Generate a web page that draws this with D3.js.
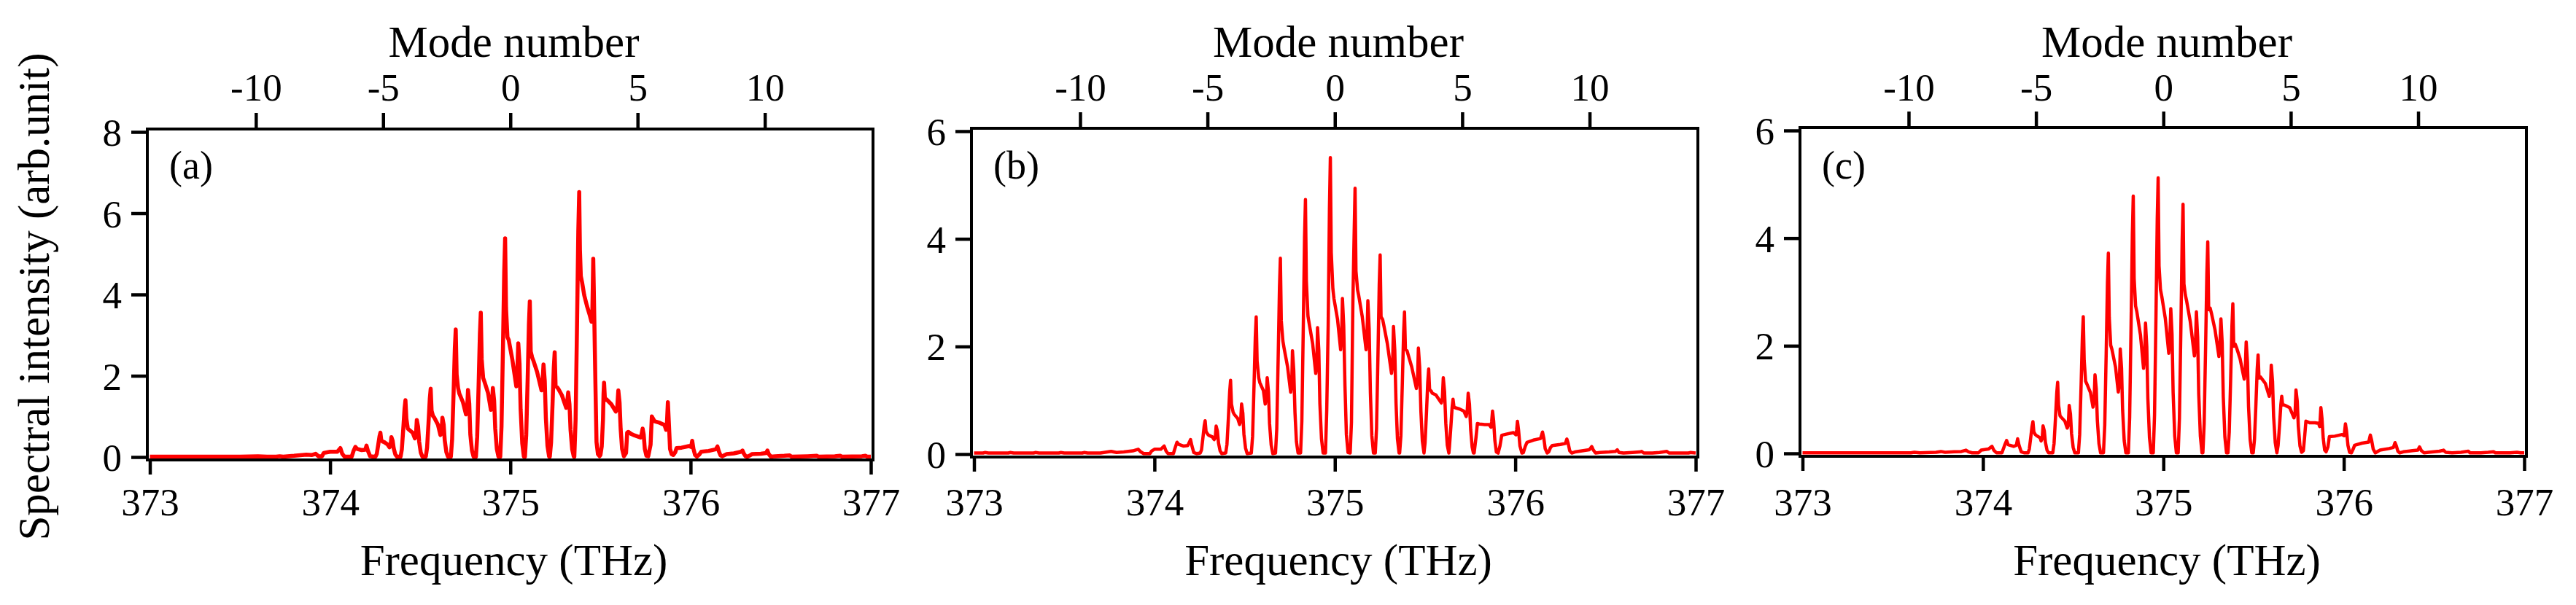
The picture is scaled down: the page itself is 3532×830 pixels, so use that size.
<!DOCTYPE html>
<html>
<head>
<meta charset="utf-8">
<script src="https://cdn.jsdelivr.net/npm/d3@7"></script>
<style>
  body { margin: 0; background: #fff; }
  text { font-family: "Liberation Serif", "Times New Roman", serif; fill: #000; }
</style>
</head>
<body>
<svg id="chart" width="3532" height="830"></svg>
<script>
// axis ticks
const freqTicks = [373, 374, 375, 376, 377];
const modeTicks = [-10, -5, 0, 5, 10];
const modeCenter = 375;      // THz, mode 0
const modeSpacing = 0.1412;  // THz per mode
const yTicksA = [0, 2, 4, 6, 8];
const yTicksB = [0, 2, 4, 6];
const yTicksC = [0, 2, 4, 6];
const panelLabels = ["(a)", "(b)", "(c)"];

// spectra: [frequency THz, intensity]
const specA = [
  [373.00,0.01],[373.50,0.01],[373.60,0.02],[373.65,0.01],[373.70,0.01],[373.72,0.02],[373.74,0.01],[373.80,0.03],
  [373.868,0.06],[373.90,0.05],[373.92,0.08],[373.935,0.02],[373.955,0.02],[373.965,0.10],[374.00,0.13],[374.04,0.13],
  [374.057,0.22],[374.067,0.08],[374.08,0.01],[374.12,0.01],[374.13,0.15],[374.14,0.25],[374.15,0.20],[374.175,0.17],
  [374.195,0.18],[374.202,0.28],[374.21,0.15],[374.222,0.02],[374.245,0.01],
  [374.252,0.01],[374.259,0.08],[374.267,0.30],[374.274,0.51],[374.279,0.60],[374.284,0.41],[374.292,0.38],[374.299,0.37],
  [374.319,0.31],[374.329,0.24],[374.335,0.27],[374.340,0.49],[374.347,0.40],[374.353,0.21],[374.362,0.06],[374.371,0.01],
  [374.391,0.01],[374.398,0.19],[374.406,0.70],[374.413,1.19],[374.418,1.40],[374.423,0.95],[374.431,0.70],[374.438,0.67],
  [374.458,0.60],[374.470,0.46],[374.476,0.52],[374.481,0.91],[374.488,0.75],[374.494,0.38],[374.503,0.11],[374.512,0.01],
  [374.531,0.01],[374.538,0.23],[374.546,0.84],[374.553,1.43],[374.558,1.68],[374.563,1.14],[374.571,1.01],[374.578,0.97],
  [374.598,0.80],[374.612,0.54],[374.618,0.61],[374.623,0.97],[374.630,0.80],[374.636,0.41],[374.645,0.12],[374.654,0.01],
  [374.670,0.01],[374.677,0.44],[374.685,1.57],[374.692,2.67],[374.697,3.14],[374.702,2.03],[374.710,1.70],[374.717,1.56],
  [374.737,1.35],[374.754,1.05],[374.760,1.15],[374.765,1.65],[374.772,1.32],[374.778,0.55],[374.787,0.16],[374.796,0.01],
  [374.809,0.01],[374.816,0.50],[374.824,1.78],[374.831,3.02],[374.836,3.55],[374.841,2.41],[374.849,1.95],[374.856,1.86],
  [374.876,1.58],[374.892,1.16],[374.898,1.32],[374.903,1.70],[374.910,1.39],[374.916,0.71],[374.925,0.20],[374.934,0.01],
  [374.944,0.01],[374.951,0.75],[374.959,2.69],[374.966,4.57],[374.971,5.38],[374.976,3.66],[374.984,2.95],[374.991,2.88],
  [375.011,2.40],[375.033,1.74],[375.039,2.16],[375.044,2.80],[375.051,2.30],[375.057,1.18],[375.066,0.34],[375.075,0.01],
  [375.081,0.01],[375.088,0.54],[375.096,1.92],[375.103,3.26],[375.108,3.83],[375.113,2.60],[375.121,2.45],[375.128,2.37],
  [375.148,2.10],[375.173,1.64],[375.179,1.86],[375.184,2.28],[375.191,1.87],[375.197,0.96],[375.206,0.27],[375.215,0.01],
  [375.219,0.01],[375.226,0.36],[375.234,1.29],[375.241,2.19],[375.246,2.58],[375.251,1.75],[375.259,1.72],[375.266,1.68],
  [375.286,1.52],[375.310,1.21],[375.316,1.38],[375.321,1.59],[375.328,1.30],[375.334,0.67],[375.343,0.19],[375.352,0.01],
  [375.355,0.01],[375.362,0.91],[375.370,3.26],[375.377,5.54],[375.382,6.52],[375.386,5.10],[375.391,4.45],[375.398,4.30],
  [375.410,3.98],[375.425,3.72],[375.440,3.50],[375.450,3.33],[375.455,3.60],[375.460,4.88],[375.466,3.36],[375.472,1.80],
  [375.478,0.37],[375.486,0.07],[375.495,0.02],
  [375.500,0.05],[375.507,0.26],[375.514,0.92],[375.517,1.55],[375.520,1.83],[375.525,1.40],[375.533,1.42],[375.540,1.39],
  [375.560,1.30],[375.585,1.12],[375.593,1.21],[375.599,1.64],[375.606,1.34],[375.612,0.69],[375.620,0.20],[375.630,0.02],
  [375.642,0.10],[375.648,0.60],[375.655,0.62],[375.670,0.57],[375.690,0.53],[375.710,0.50],[375.722,0.48],[375.728,0.56],
  [375.734,0.70],[375.740,0.55],[375.746,0.20],[375.755,0.03],[375.765,0.02],
  [375.778,0.30],[375.785,1.00],[375.790,0.96],[375.800,0.88],[375.830,0.84],[375.855,0.79],[375.864,0.67],[375.869,0.85],
  [375.874,1.35],[375.880,0.79],[375.886,0.20],[375.895,0.07],[375.904,0.05],
  [375.915,0.12],[375.922,0.22],[375.950,0.23],[375.990,0.27],[376.003,0.25],[376.009,0.40],[376.016,0.20],[376.025,0.05],[376.035,0.01],
  [376.048,0.06],[376.059,0.13],[376.100,0.15],[376.140,0.19],[376.149,0.26],[376.157,0.14],[376.166,0.04],[376.175,0.02],
  [376.190,0.05],[376.200,0.07],[376.240,0.09],[376.280,0.13],[376.288,0.16],[376.296,0.08],[376.305,0.02],[376.315,0.01],
  [376.330,0.04],[376.340,0.07],[376.390,0.08],[376.420,0.10],[376.426,0.16],[376.434,0.07],[376.445,0.01],
  [376.470,0.02],[376.520,0.03],[376.550,0.04],[376.560,0.01],[376.650,0.02],[376.700,0.03],[376.710,0.01],
  [376.800,0.02],[376.830,0.03],[376.840,0.01],[376.950,0.02],[376.970,0.03],[376.980,0.01],[377.00,0.01]
];

const specB = [
  [373.00,0.02],[373.05,0.02],[373.06,0.03],[373.08,0.02],[373.19,0.02],[373.20,0.03],[373.22,0.02],[373.33,0.02],
  [373.34,0.03],[373.36,0.02],[373.47,0.02],[373.48,0.03],[373.50,0.02],[373.60,0.02],[373.61,0.03],[373.63,0.02],
  [373.70,0.02],[373.74,0.04],[373.76,0.05],[373.79,0.03],[373.83,0.04],[373.88,0.06],[373.91,0.09],[373.925,0.04],
  [373.94,0.01],[373.975,0.01],[373.985,0.06],[374.00,0.09],[374.035,0.09],[374.054,0.15],[374.064,0.06],[374.075,0.01],
  [374.105,0.01],[374.115,0.12],[374.125,0.22],[374.135,0.18],[374.16,0.15],[374.185,0.16],[374.20,0.27],[374.208,0.15],
  [374.218,0.03],[374.235,0.01],
  [374.254,0.02],[374.261,0.08],[374.269,0.31],[374.276,0.53],[374.281,0.62],[374.286,0.42],[374.295,0.37],[374.301,0.35],
  [374.321,0.32],[374.331,0.27],[374.337,0.30],[374.342,0.52],[374.349,0.43],[374.355,0.21],[374.364,0.06],[374.373,0.01],
  [374.395,0.02],[374.402,0.18],[374.410,0.68],[374.417,1.16],[374.422,1.37],[374.427,0.93],[374.436,0.78],[374.442,0.74],
  [374.462,0.66],[374.472,0.55],[374.478,0.62],[374.483,0.93],[374.490,0.76],[374.496,0.37],[374.505,0.11],[374.514,0.01],
  [374.537,0.02],[374.544,0.33],[374.552,1.28],[374.559,2.17],[374.564,2.55],[374.569,1.73],[374.578,1.42],[374.584,1.33],
  [374.604,1.18],[374.614,0.93],[374.620,1.05],[374.625,1.42],[374.632,1.16],[374.638,0.57],[374.647,0.17],[374.656,0.01],
  [374.671,0.02],[374.678,0.47],[374.686,1.82],[374.693,3.09],[374.698,3.64],[374.703,2.48],[374.712,2.10],[374.718,1.98],
  [374.738,1.62],[374.755,1.15],[374.761,1.30],[374.765,1.92],[374.772,1.57],[374.779,0.77],[374.787,0.23],[374.796,0.02],
  [374.810,0.02],[374.817,0.61],[374.825,2.36],[374.832,4.02],[374.837,4.73],[374.842,3.22],[374.851,2.56],[374.857,2.44],
  [374.877,2.05],[374.894,1.50],[374.900,1.70],[374.904,2.35],[374.911,1.93],[374.917,0.94],[374.926,0.28],[374.935,0.02],
  [374.948,0.02],[374.955,0.82],[374.963,2.39],[374.970,4.56],[374.975,5.51],[374.980,3.75],[374.989,3.07],[374.995,2.89],
  [375.015,2.50],[375.032,1.94],[375.038,2.26],[375.042,2.89],[375.049,2.39],[375.056,1.27],[375.064,0.36],[375.073,0.03],
  [375.085,0.02],[375.092,0.59],[375.100,2.85],[375.107,4.11],[375.112,4.94],[375.117,3.40],[375.126,3.05],[375.132,2.95],
  [375.152,2.55],[375.173,1.94],[375.178,2.17],[375.183,2.85],[375.190,2.34],[375.197,1.14],[375.205,0.34],[375.214,0.02],
  [375.224,0.02],[375.231,0.48],[375.239,1.85],[375.246,3.15],[375.251,3.70],[375.256,2.55],[375.265,2.50],[375.271,2.40],
  [375.291,2.05],[375.314,1.50],[375.320,1.67],[375.325,2.37],[375.332,1.94],[375.339,0.95],[375.347,0.28],[375.356,0.02],
  [375.359,0.02],[375.366,0.34],[375.374,1.32],[375.381,2.24],[375.386,2.64],[375.391,1.95],[375.400,1.92],[375.406,1.85],
  [375.426,1.62],[375.452,1.22],[375.458,1.36],[375.463,1.97],[375.470,1.62],[375.477,0.79],[375.485,0.24],[375.494,0.02],
  [375.500,0.21],[375.508,0.79],[375.515,1.34],[375.520,1.58],[375.525,1.20],[375.534,1.17],[375.540,1.13],
  [375.560,1.10],[375.590,0.95],[375.596,1.04],[375.601,1.42],[375.608,1.16],[375.615,0.57],[375.623,0.17],[375.632,0.02],
  [375.635,0.13],[375.643,0.51],[375.650,0.87],[375.655,1.02],[375.660,0.88],[375.669,0.86],[375.690,0.84],
  [375.715,0.80],[375.728,0.70],[375.734,0.82],[375.739,1.13],[375.746,0.93],[375.753,0.45],[375.761,0.13],[375.768,0.02],
  [375.772,0.02],[375.782,0.30],[375.790,0.57],[375.800,0.56],[375.830,0.55],[375.855,0.55],[375.865,0.50],[375.869,0.60],
  [375.874,0.80],[375.880,0.62],[375.887,0.25],[375.895,0.04],[375.905,0.02],
  [375.915,0.15],[375.925,0.35],[375.950,0.37],[375.990,0.40],[376.004,0.36],[376.008,0.45],[376.012,0.61],[376.018,0.45],
  [376.026,0.15],[376.037,0.02],[376.045,0.03],
  [376.055,0.14],[376.065,0.22],[376.100,0.26],[376.140,0.29],[376.151,0.41],[376.158,0.30],[376.166,0.10],[376.177,0.02],
  [376.185,0.04],[376.195,0.12],[376.205,0.16],[376.250,0.18],[376.278,0.20],[376.286,0.28],[376.293,0.20],[376.302,0.06],
  [376.313,0.02],[376.330,0.04],[376.370,0.06],[376.410,0.08],[376.424,0.14],[376.432,0.08],[376.445,0.02],
  [376.470,0.03],[376.520,0.04],[376.555,0.05],[376.565,0.08],[376.575,0.03],[376.600,0.02],
  [376.650,0.03],[376.690,0.04],[376.700,0.05],[376.712,0.02],[376.760,0.02],
  [376.800,0.03],[376.840,0.05],[376.852,0.02],[376.900,0.02],[376.960,0.02],[376.970,0.03],[377.00,0.02]
];

const specC = [
  [373.00,0.01],[373.60,0.01],[373.62,0.02],[373.65,0.01],[373.74,0.02],[373.767,0.035],[373.79,0.02],[373.84,0.03],
  [373.88,0.035],[373.906,0.06],[373.92,0.03],[373.94,0.01],[373.975,0.01],[373.99,0.06],[374.03,0.08],[374.05,0.13],
  [374.06,0.06],[374.075,0.01],[374.105,0.01],[374.12,0.15],[374.131,0.24],[374.14,0.16],[374.17,0.13],[374.185,0.15],
  [374.192,0.27],[374.200,0.15],[374.212,0.03],[374.228,0.01],
  [374.250,0.01],[374.257,0.08],[374.265,0.30],[374.272,0.50],[374.277,0.59],[374.282,0.40],[374.290,0.35],[374.297,0.33],
  [374.317,0.29],[374.322,0.23],[374.328,0.27],[374.333,0.51],[374.340,0.42],[374.346,0.21],[374.355,0.06],[374.364,0.01],
  [374.387,0.01],[374.394,0.18],[374.402,0.66],[374.409,1.12],[374.414,1.32],[374.419,0.90],[374.427,0.70],[374.434,0.67],
  [374.454,0.60],[374.467,0.47],[374.473,0.53],[374.478,0.89],[374.485,0.73],[374.491,0.37],[374.500,0.11],[374.509,0.01],
  [374.529,0.01],[374.536,0.35],[374.544,1.27],[374.551,2.16],[374.556,2.54],[374.561,1.73],[374.569,1.34],[374.576,1.29],
  [374.596,1.13],[374.610,0.86],[374.616,0.98],[374.621,1.46],[374.628,1.20],[374.634,0.61],[374.643,0.18],[374.652,0.01],
  [374.668,0.01],[374.675,0.52],[374.683,1.86],[374.690,3.16],[374.695,3.72],[374.700,2.53],[374.708,2.01],[374.715,1.93],
  [374.735,1.60],[374.750,1.14],[374.756,1.29],[374.761,1.94],[374.768,1.59],[374.774,0.81],[374.783,0.23],[374.792,0.01],
  [374.806,0.01],[374.813,0.67],[374.821,2.39],[374.828,4.06],[374.833,4.78],[374.838,3.25],[374.846,2.74],[374.853,2.63],
  [374.873,2.20],[374.890,1.58],[374.896,1.79],[374.901,2.42],[374.908,1.98],[374.914,1.02],[374.923,0.29],[374.932,0.01],
  [374.944,0.01],[374.951,0.72],[374.959,2.56],[374.966,4.35],[374.971,5.12],[374.976,3.48],[374.984,3.04],[374.991,2.92],
  [375.011,2.50],[375.030,1.86],[375.036,2.11],[375.041,2.69],[375.048,2.21],[375.054,1.13],[375.063,0.32],[375.072,0.01],
  [375.082,0.01],[375.089,0.65],[375.097,2.32],[375.104,3.94],[375.109,4.63],[375.114,3.15],[375.122,2.94],[375.129,2.83],
  [375.149,2.45],[375.172,1.81],[375.178,2.06],[375.183,2.63],[375.190,2.16],[375.196,1.10],[375.205,0.32],[375.214,0.01],
  [375.219,0.01],[375.226,0.55],[375.234,1.97],[375.241,3.34],[375.246,3.93],[375.251,2.67],[375.259,2.70],[375.266,2.61],
  [375.286,2.30],[375.308,1.80],[375.314,2.06],[375.319,2.50],[375.326,2.05],[375.332,1.05],[375.341,0.30],[375.350,0.01],
  [375.358,0.01],[375.365,0.39],[375.373,1.39],[375.380,2.36],[375.385,2.78],[375.390,1.99],[375.398,2.03],[375.405,1.97],
  [375.425,1.76],[375.448,1.38],[375.454,1.57],[375.459,2.07],[375.466,1.70],[375.472,0.87],[375.481,0.25],[375.490,0.01],
  [375.498,0.01],[375.505,0.26],[375.513,0.92],[375.520,1.56],[375.525,1.83],[375.530,1.40],[375.538,1.42],[375.545,1.39],
  [375.565,1.30],[375.587,1.06],[375.593,1.20],[375.598,1.64],[375.605,1.34],[375.611,0.69],[375.620,0.20],[375.629,0.01],
  [375.636,0.15],[375.644,0.53],[375.651,0.90],[375.656,1.06],[375.661,0.90],[375.669,0.90],[375.676,0.89],
  [375.700,0.85],[375.724,0.66],[375.730,0.75],[375.735,1.18],[375.742,0.97],[375.748,0.50],[375.757,0.14],[375.766,0.02],
  [375.776,0.05],[375.784,0.35],[375.790,0.60],[375.810,0.57],[375.840,0.57],[375.860,0.56],[375.866,0.50],[375.869,0.62],
  [375.873,0.85],[375.879,0.65],[375.886,0.28],[375.894,0.06],[375.902,0.03],
  [375.912,0.12],[375.920,0.31],[375.950,0.32],[375.990,0.35],[376.002,0.33],[376.005,0.42],[376.009,0.55],[376.015,0.42],
  [376.023,0.15],[376.032,0.02],[376.042,0.01],
  [376.052,0.08],[376.060,0.15],[376.100,0.19],[376.138,0.21],[376.147,0.34],[376.154,0.25],[376.163,0.08],[376.175,0.01],
  [376.190,0.04],[376.200,0.06],[376.250,0.09],[376.275,0.11],[376.284,0.20],[376.291,0.14],[376.300,0.04],[376.310,0.01],
  [376.330,0.03],[376.380,0.05],[376.410,0.06],[376.420,0.12],[376.430,0.05],[376.445,0.01],
  [376.470,0.02],[376.530,0.04],[376.553,0.06],[376.565,0.02],[376.600,0.01],
  [376.650,0.02],[376.690,0.04],[376.700,0.01],[376.760,0.01],
  [376.800,0.02],[376.830,0.03],[376.840,0.01],[376.920,0.01],[376.960,0.02],[376.980,0.01],[377.00,0.01]
];

const svg = d3.select("#chart");

const panels = [
  {spec: specA, yMax: 8, yTicks: yTicksA, label: panelLabels[0], left: 202, right: 1197, top: 177, bottom: 631, lw: 5.5},
  {spec: specB, yMax: 6, yTicks: yTicksB, label: panelLabels[1], left: 1332, right: 2328, top: 176, bottom: 627, lw: 4.5},
  {spec: specC, yMax: 6, yTicks: yTicksC, label: panelLabels[2], left: 2468, right: 3464, top: 175, bottom: 626, lw: 4.5}
];

function styleAxis(g) {
  g.select(".domain").remove();
  g.selectAll(".tick line").attr("stroke", "#000").attr("stroke-width", 4.5);
  g.selectAll(".tick text")
    .attr("font-family", "Liberation Serif, Times New Roman, serif")
    .attr("font-size", 53)
    .attr("fill", "#000");
}

panels.forEach((p, i) => {
  const x = d3.scaleLinear().domain([373, 377]).range([p.left + 3.5, p.right - 3]);
  const y = d3.scaleLinear().domain([0, p.yMax]).range([p.bottom - 4, p.top + 4]);
  const m = d3.scaleLinear()
    .domain([(373 - modeCenter) / modeSpacing, (377 - modeCenter) / modeSpacing])
    .range(x.range());

  const g = svg.append("g");

  const line = d3.line()
    .x(d => x(d[0]))
    .y(d => y(d[1]));

  g.append("path")
    .datum(p.spec)
    .attr("fill", "none")
    .attr("stroke", "#ff0000")
    .attr("stroke-width", p.lw)
    .attr("stroke-linejoin", "round")
    .attr("d", line);

  // bottom axis: frequency
  const gx = g.append("g")
    .attr("transform", "translate(0," + p.bottom + ")")
    .call(d3.axisBottom(x).tickValues(freqTicks).tickSize(20).tickSizeOuter(0).tickFormat(d => String(d)));
  styleAxis(gx);
  gx.selectAll(".tick text").attr("y", 707 - p.bottom).attr("dy", null);

  // top axis: mode number
  const gm = g.append("g")
    .attr("transform", "translate(0," + p.top + ")")
    .call(d3.axisTop(m).tickValues(modeTicks).tickSize(22).tickSizeOuter(0).tickFormat(d => String(d)));
  styleAxis(gm);
  gm.selectAll(".tick text").attr("y", 138 - p.top).attr("dy", null);

  // left axis: intensity
  const gy = g.append("g")
    .attr("transform", "translate(" + p.left + ",0)")
    .call(d3.axisLeft(y).tickValues(p.yTicks).tickSize(22).tickSizeOuter(0).tickFormat(d => String(d)));
  styleAxis(gy);
  gy.selectAll(".tick text").attr("x", -35).attr("dy", "0.35em");

  // frame
  g.append("rect")
    .attr("x", p.left).attr("y", p.top)
    .attr("width", p.right - p.left).attr("height", p.bottom - p.top)
    .attr("fill", "none").attr("stroke", "#000").attr("stroke-width", 4);

  g.append("text")
    .attr("x", p.left + 30).attr("y", 245)
    .attr("font-size", 54)
    .text(p.label);

  const cx = (p.left + p.right) / 2 + 5;
  g.append("text")
    .attr("x", cx).attr("y", 78)
    .attr("text-anchor", "middle")
    .attr("font-size", 61)
    .text("Mode number");

  g.append("text")
    .attr("x", cx).attr("y", 789)
    .attr("text-anchor", "middle")
    .attr("font-size", 61)
    .text("Frequency (THz)");
});

svg.append("text")
  .attr("transform", "translate(67,407) rotate(-90)")
  .attr("text-anchor", "middle")
  .attr("font-size", 61)
  .text("Spectral intensity (arb.unit)");
</script>
</body>
</html>
